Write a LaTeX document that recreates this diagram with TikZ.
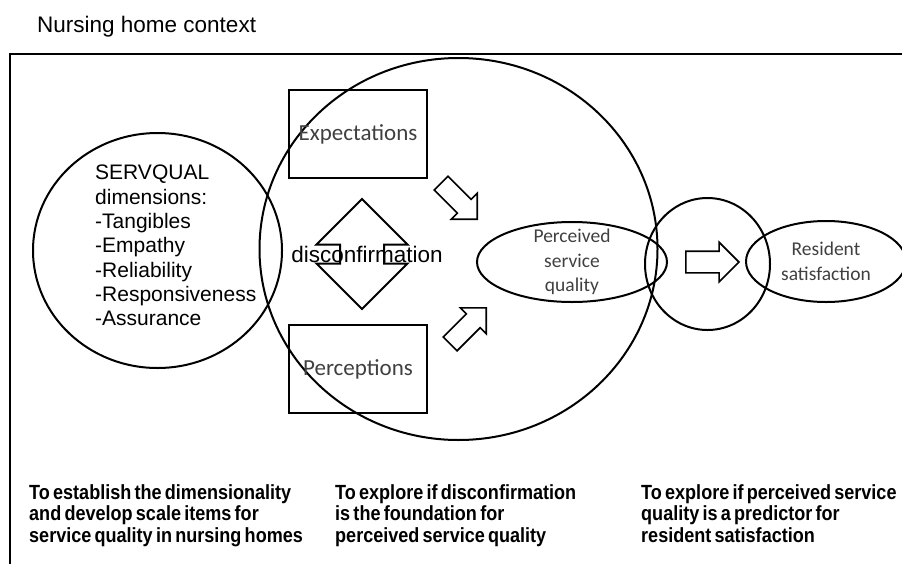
\documentclass[tikz,border=0pt]{standalone}
\usepackage{fontspec}
\setmainfont{Liberation Sans}
\newfontfamily\calibrifont{Carlito}
\newfontfamily\narrowfont[FakeStretch=0.88,WordSpace=0.65]{Liberation Sans}
\usetikzlibrary{calc, positioning, shapes}

\tikzset{
	outline/.style={draw, line width=2pt},
	blob/.style={outline, ellipse, inner sep=0pt},
	factorbox/.style={outline, rectangle, minimum width=138pt, minimum height=88pt, inner sep=0pt, text=black!75, font=\calibrifont\fontsize{23}{27}\selectfont},
	calibrilbl/.style={align=center, inner sep=0pt, text=black!75, font=\calibrifont\fontsize{19.5}{24.5}\selectfont},
	blockarrow/.style={outline, line width=1.6pt, single arrow, single arrow tip angle=90, inner sep=0pt, text height=0pt, text depth=0pt, anchor=tip},
	aimtext/.style={anchor=north west, align=left, inner sep=0pt, font=\narrowfont\bfseries\fontsize{20.5}{21.5}\selectfont}
}

\begin{document}
\begin{tikzpicture}[x=1pt, y=-1pt]
	\useasboundingbox (0,0) rectangle (902,563);
	\clip (0,0) rectangle (902,563);

	% context frame, open to the right and the bottom
	\draw[line width=2.5pt] (10,600) -- (10,54) -- (940,54);
	\node[anchor=north west, inner sep=0pt, font=\fontsize{22.5}{27}\selectfont] (title) at (37,16) {Nursing home context};

	% first study: dimensions
	\node[blob, minimum width=249pt, minimum height=235pt] (servq) at (157.5,250.5) {};
	\node[anchor=north west, align=left, inner sep=0pt, font=\fontsize{21}{24.3}\selectfont] (dims) at (95,165)
		{SERVQUAL\\dimensions:\\-Tangibles\\-Empathy\\-Reliability\\-Responsiveness\\-Assurance};

	% second study: disconfirmation
	\node[blob, minimum width=398pt, minimum height=382pt] (discircle) at (458.5,249) {};
	\node[factorbox] (expect) at (358,134) {Expectations};
	\node[factorbox, below=145pt of expect] (percept) {Perceptions};
	\node[outline, double arrow, rotate=90, double arrow tip angle=90, inner sep=0pt,
		text height=0pt, text depth=0pt, inner ysep=21pt, minimum width=89pt, double arrow head extend=23.5pt,
		minimum height=110pt] (updown) at (362,254) {};
	\node[anchor=base, inner sep=0pt, font=\fontsize{22.5}{27}\selectfont] (disc) at (367,262) {disconfirmation};
	\node[blockarrow, rotate=-45, inner ysep=9pt, minimum width=35pt, single arrow head extend=8.5pt, minimum height=51pt] (arrexp) at (478,220) {};
	\node[blockarrow, rotate=45, inner ysep=9pt, minimum width=35pt, single arrow head extend=8.5pt, minimum height=51pt] (arrper) at (487,307) {};
	\node[blob, minimum width=190pt, minimum height=80pt] (psq) at (572,262) {};
	\node[calibrilbl] (psqtxt) at (psq) {Perceived\\service\\quality};

	% third study: satisfaction
	\node[blob, minimum width=125pt, minimum height=132pt] (satcircle) at (707.5,264) {};
	\node[blockarrow, inner ysep=10pt, minimum width=38pt, single arrow head extend=9pt, minimum height=53pt] (arrsat) at (740,262) {};
	\node[blob, minimum width=160pt, minimum height=81pt] (resid) at (826,261.5) {};
	\node[calibrilbl] (residtxt) at (resid) {Resident\\satisfaction};

	% aims of the three studies
	\node[aimtext] (aim1) at (29,484) {To establish the dimensionality\\and develop scale items for\\service quality in nursing homes};
	\node[aimtext] (aim2) at (335,484) {To explore if disconfirmation\\is the foundation for\\perceived service quality};
	\node[aimtext] (aim3) at (641,484) {To explore if perceived service\\quality is a predictor for\\resident satisfaction};
\end{tikzpicture}
\end{document}
